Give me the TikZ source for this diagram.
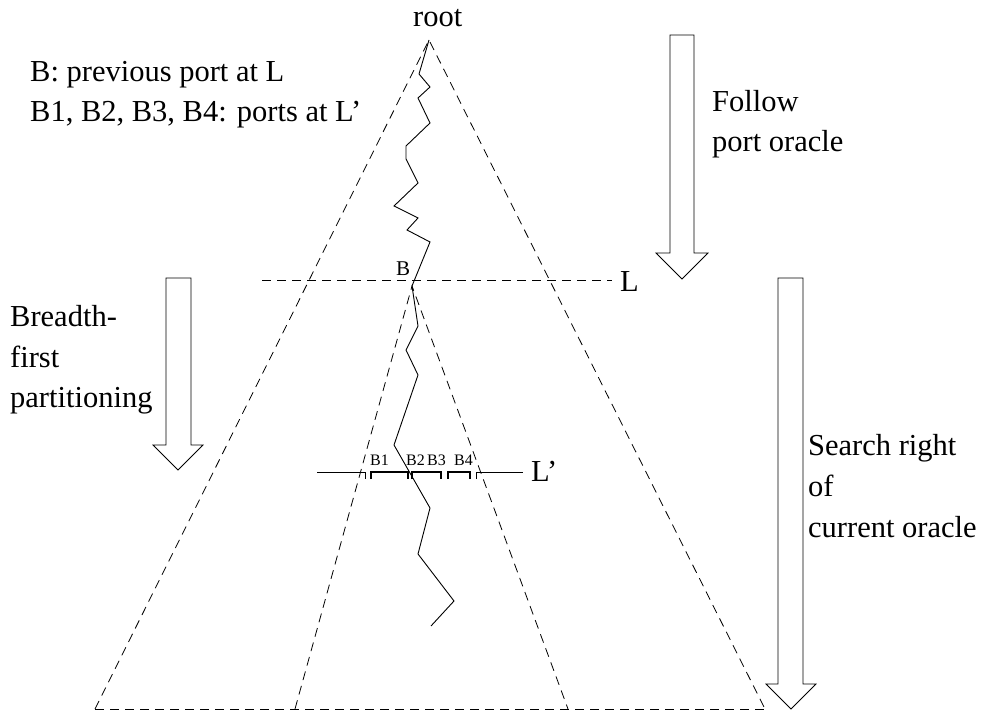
\documentclass[tikz,border=0pt]{standalone}
\usepackage{fontspec}
\setmainfont{Liberation Serif}
\begin{document}
\begin{tikzpicture}[x=1pt,y=-1pt,
  dashline/.style={dash pattern=on 9pt off 6pt, line width=0.8pt},
  solidline/.style={line width=0.9pt},
  bracketline/.style={line width=1.8pt},
  blockarrow/.style={draw, line width=0.8pt, fill=white, line join=miter},
  lbl/.style={inner sep=0pt, anchor=base west, font=\fontsize{30.5}{36}\selectfont},
  smalllbl/.style={inner sep=0pt, anchor=base west, font=\fontsize{16}{19}\selectfont},
  blbl/.style={inner sep=0pt, anchor=base west, font=\fontsize{21}{24}\selectfont}]
\useasboundingbox (0,0) rectangle (1002,711);
% main triangle
\coordinate (apex) at (429,40);
\coordinate (bl) at (95,709);
\coordinate (br) at (765,709);
\coordinate (Bpt) at (412,286);
\coordinate (il) at (295,709);
\coordinate (ir) at (568,709);
\coordinate (Ls) at (262,280);
\coordinate (Le) at (612,280);
\draw[dashline] (bl) -- (apex) -- (br);
\draw[dashline] (bl) -- (br);
\draw[dashline] (il) -- (Bpt) -- (ir);
\draw[dashline] (Ls) -- (Le);
% zigzag path
\draw[solidline, line join=miter] (apex) -- (419,74) -- (430,87) -- (418,98) -- (430,123) -- (406,146)
  -- (406,159) -- (418,183) -- (394,206) -- (418,218) -- (407,230) -- (430,242) -- (Bpt)
  -- (418,326) -- (406,350) -- (418,375) -- (394,445) -- (430,508) -- (418,554) -- (454,601) -- (431,626);
% L' line with ports
\draw[solidline] (317,472) -- (365,472) -- (365,479);
\draw[solidline] (476,479) -- (476,472) -- (523,472);
\draw[bracketline] (371,479) -- (371,472) -- (408,472) -- (408,479);
\draw[bracketline] (412,479) -- (412,472) -- (441,472) -- (441,479);
\draw[bracketline] (448,479) -- (448,472) -- (470,472) -- (470,479);
% block arrows
\draw[blockarrow] (670,35) -- (694,35) -- (694,253) -- (708,253) -- (682,279) -- (656,253) -- (670,253) -- cycle;
\draw[blockarrow] (166,278) -- (191,278) -- (191,445) -- (203,445) -- (178,470) -- (153,445) -- (166,445) -- cycle;
\draw[blockarrow] (778,278) -- (803,278) -- (803,684) -- (816,684) -- (791,709) -- (766,684) -- (778,684) -- cycle;
% texts
\node[lbl] (root) at (413,27) {root};
\node[lbl] (t1) at (30,82) {B: previous port at L};
\node[lbl] (t2) at (30,122) {B1, B2, B3, B4: ports at L’};
\node[lbl] (f1) at (712,112) {Follow};
\node[lbl] (f2) at (712,152) {port oracle};
\node[lbl] (b1) at (10,327) {Breadth-};
\node[lbl] (b2) at (10,368) {first};
\node[lbl] (b3) at (10,408) {partitioning};
\node[lbl] (s1) at (808,455) {Search right};
\node[lbl] (s2) at (808,496) {of};
\node[lbl] (s3) at (808,537) {current oracle};
\node[lbl] (Llab) at (620,292) {L};
\node[lbl] (Lplab) at (531,481) {L’};
\node[blbl] (Blab) at (396,276) {B};
\node[smalllbl] (p1) at (370,465) {B1};
\node[smalllbl] (p2) at (406,465) {B2};
\node[smalllbl] (p3) at (427,465) {B3};
\node[smalllbl] (p4) at (454,465) {B4};
\end{tikzpicture}
\end{document}
